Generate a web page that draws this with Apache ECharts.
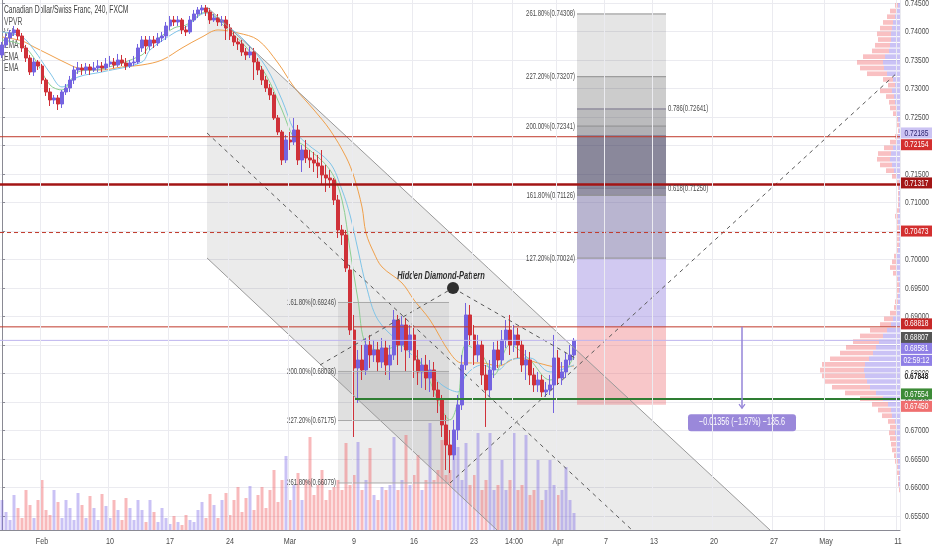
<!DOCTYPE html>
<html><head><meta charset="utf-8">
<script src="https://cdn.jsdelivr.net/npm/echarts/dist/echarts.min.js"></script>
<style>html,body{margin:0;padding:0;background:#fff}#c{width:932px;height:550px}</style>
</head><body><div id="c"></div>
<script>
// ---------------- data ----------------
const slotCount = 225; // 8h slots from start to right edge (incl. future space)
const tickIndex = [10,27,42,57,72,88,103,118,128,139,151,163,178,193,206,224];
const tickText  = ['Feb','10','17','24','Mar','9','16','23','14:00','Apr','7','13','20','27','May','11'];
const priceTickStep = 0.005, priceTickFirst = 0.655, priceTickLast = 0.745;

// [open, close, low, high]
const candles = [
[0.73588,0.73764,0.73535,0.73816],[0.73764,0.73886,0.73711,0.73956],[0.73886,0.73974,0.73816,0.74027],[0.73974,0.74027,0.73921,0.74097],
[0.74027,0.73921,0.73851,0.74062],[0.73921,0.73711,0.73641,0.73974],[0.73711,0.73535,0.73465,0.73764],[0.73535,0.73290,0.73237,0.73588],
[0.73290,0.73465,0.73220,0.73535],[0.73465,0.73395,0.73325,0.73500],[0.73395,0.73149,0.73079,0.73430],[0.73149,0.72939,0.72869,0.73185],
[0.72939,0.72799,0.72693,0.73009],[0.72799,0.72834,0.72728,0.72886],[0.72834,0.72728,0.72623,0.72886],[0.72728,0.72939,0.72658,0.72974],
[0.72939,0.73009,0.72886,0.73079],[0.73009,0.73149,0.72939,0.73220],[0.73149,0.73325,0.73079,0.73395],[0.73325,0.73360,0.73255,0.73465],
[0.73360,0.73325,0.73237,0.73430],[0.73325,0.73378,0.73255,0.73448],[0.73378,0.73325,0.73237,0.73430],[0.73325,0.73360,0.73290,0.73465],
[0.73360,0.73395,0.73290,0.73500],[0.73395,0.73360,0.73290,0.73465],[0.73360,0.73430,0.73325,0.73535],[0.73430,0.73465,0.73378,0.73571],
[0.73465,0.73413,0.73360,0.73535],[0.73413,0.73500,0.73378,0.73606],[0.73500,0.73448,0.73395,0.73588],[0.73448,0.73395,0.73325,0.73535],
[0.73395,0.73448,0.73360,0.73500],[0.73448,0.73465,0.73395,0.73571],[0.73465,0.73711,0.73430,0.73781],[0.73711,0.73851,0.73641,0.73921],
[0.73851,0.73746,0.73606,0.73921],[0.73746,0.73851,0.73676,0.73921],[0.73851,0.73799,0.73711,0.73921],[0.73799,0.73886,0.73746,0.73974],
[0.73886,0.73921,0.73816,0.73992],[0.73921,0.74097,0.73851,0.74167],[0.74097,0.74202,0.74027,0.74272],[0.74202,0.74167,0.74097,0.74272],
[0.74167,0.74202,0.74097,0.74272],[0.74202,0.74027,0.73956,0.74237],[0.74027,0.73992,0.73921,0.74097],[0.73992,0.74202,0.73956,0.74272],
[0.74202,0.74307,0.74167,0.74378],[0.74307,0.74378,0.74237,0.74430],[0.74378,0.74413,0.74307,0.74465],[0.74413,0.74342,0.74272,0.74465],
[0.74342,0.74202,0.74132,0.74413],[0.74202,0.74237,0.74167,0.74307],[0.74237,0.74167,0.74097,0.74307],[0.74167,0.74202,0.74097,0.74272],
[0.74202,0.74062,0.73851,0.74272],[0.74062,0.73921,0.73851,0.74132],[0.73921,0.73816,0.73746,0.73992],[0.73816,0.73781,0.73676,0.73886],
[0.73781,0.73641,0.73571,0.73851],[0.73641,0.73588,0.73500,0.73711],[0.73588,0.73641,0.73535,0.73746],[0.73641,0.73465,0.73149,0.73711],
[0.73465,0.73325,0.73237,0.73535],[0.73325,0.73149,0.73062,0.73395],[0.73149,0.73009,0.72939,0.73220],[0.73009,0.72886,0.72799,0.73079],
[0.72886,0.72483,0.72448,0.72939],[0.72483,0.72237,0.72185,0.72535],[0.72237,0.71746,0.71658,0.72272],[0.71746,0.72097,0.71693,0.72185],
[0.72097,0.72062,0.71921,0.72237],[0.72062,0.72272,0.72009,0.72483],[0.72272,0.71746,0.71658,0.72360],[0.71746,0.71921,0.71535,0.72009],
[0.71921,0.71781,0.71693,0.72097],[0.71781,0.71746,0.71606,0.71921],[0.71746,0.71693,0.71535,0.71886],[0.71693,0.71641,0.71430,0.71834],
[0.71641,0.71483,0.71307,0.71921],[0.71483,0.71430,0.71185,0.71658],[0.71430,0.71395,0.71255,0.71571],[0.71395,0.71044,0.70956,0.71430],
[0.71044,0.70518,0.70378,0.71132],[0.70518,0.70430,0.70255,0.70606],[0.70430,0.69851,0.69781,0.70518],[0.69816,0.68763,0.68676,0.69904],
[0.68763,0.68097,0.66886,0.69027],[0.68097,0.68237,0.67483,0.68413],[0.68237,0.68062,0.67886,0.68500],[0.68062,0.68500,0.67974,0.68623],
[0.68500,0.68325,0.68097,0.68676],[0.68325,0.68413,0.68202,0.68588],[0.68413,0.68202,0.68027,0.68553],[0.68202,0.68448,0.68097,0.68623],
[0.68448,0.68149,0.67974,0.68588],[0.68149,0.68325,0.67886,0.68500],[0.68325,0.68939,0.68237,0.69114],[0.68939,0.68500,0.68149,0.69027],
[0.68500,0.68851,0.68378,0.69009],[0.68851,0.68413,0.68027,0.68974],[0.68413,0.68676,0.68272,0.68851],[0.68676,0.68237,0.67921,0.68799],
[0.68237,0.68027,0.67799,0.68413],[0.68027,0.68149,0.67746,0.68272],[0.68149,0.67921,0.67711,0.68325],[0.67921,0.68062,0.67676,0.68237],
[0.68062,0.67711,0.67588,0.68202],[0.67711,0.67535,0.67307,0.67851],[0.67535,0.67097,0.66886,0.67623],[0.67097,0.66746,0.66307,0.67272],
[0.66746,0.66571,0.66255,0.67009],[0.66571,0.67009,0.66483,0.67185],[0.67009,0.67448,0.66834,0.67623],[0.67448,0.68149,0.67360,0.68325],
[0.68149,0.69027,0.68062,0.69237],[0.69027,0.68676,0.68500,0.69202],[0.68676,0.68325,0.68149,0.68851],[0.68325,0.68500,0.68202,0.68676],
[0.68500,0.67974,0.67799,0.68588],[0.67974,0.67711,0.67062,0.68149],[0.67711,0.68062,0.67588,0.68237],[0.68062,0.68413,0.67921,0.68553],
[0.68413,0.68237,0.68097,0.68588],[0.68237,0.68588,0.68149,0.68763],[0.68588,0.68763,0.68448,0.68939],[0.68763,0.68500,0.68325,0.69027],
[0.68500,0.68676,0.68378,0.68851],[0.68676,0.68500,0.68272,0.68799],[0.68500,0.68149,0.68027,0.68588],[0.68149,0.68237,0.67886,0.68413],
[0.68237,0.67974,0.67799,0.68378],[0.67974,0.67799,0.67676,0.68097],[0.67799,0.67886,0.67676,0.68027],[0.67886,0.67676,0.67588,0.67974],
[0.67676,0.67711,0.67588,0.67851],[0.67711,0.67799,0.67623,0.67974],[0.67799,0.68272,0.67307,0.68676],[0.68272,0.67921,0.67799,0.68413],
[0.67921,0.68027,0.67799,0.68202],[0.68027,0.68237,0.67921,0.68378],[0.68237,0.68325,0.68149,0.68500],[0.68325,0.68581,0.68237,0.68623]
];

const volumes = [
3000,1800,1000,3500,2200,1200,4000,2500,1200,3000,5000,2000,1500,4000,2800,
1200,3000,2200,1000,3700,2500,1200,3400,2200,1000,3600,2400,1200,3000,2000,
1000,3200,2200,1000,3000,2000,800,3000,1800,800,2200,1200,600,1400,800,
500,1500,1000,800,2000,2800,1200,3600,2500,1200,3000,3700,1500,3000,4300,
1800,3200,4400,2000,3500,4300,2200,4000,6000,2800,5000,7400,3000,4500,5700,
3000,5000,9300,3500,4500,6000,3000,4000,4300,5000,4000,8700,4500,5500,8800,
4000,5000,8200,3500,3000,4300,4000,4500,9300,4000,5000,9500,4500,5500,7500,
4000,5000,10700,5000,6000,9000,5500,6000,8300,8300,5000,8700,4500,5500,9700,
4000,5000,9700,4000,4500,7000,4000,5000,9700,4000,4500,9500,3500,4000,7000,
3000,4000,7000,4500,3500,4000,6300,3000,1700];

// EMA readings [slot, price]
const emaSlow = [[0,0.73904],[5,0.73834],[8,0.73728],[12,0.73588],[16,0.73448],[19,0.73360],[25,0.73325],[30,0.73378],[35,0.73413],[40,0.73500],[45,0.73711],[50,0.73904],[54,0.74027],[59,0.73974],[64,0.73851],[69,0.73448],[73,0.73027],[78,0.72623],[82,0.72272],[86,0.71799],[88,0.71448],[90,0.70921],[91,0.70465],[93,0.70114],[95,0.69869],[100,0.69588],[103,0.69290],[107,0.68939],[112,0.68360],[115,0.68185],[120,0.68185],[124,0.68132],[129,0.68272],[134,0.68185],[139,0.68114],[143,0.68132]];
const emaMid = [[0,0.73992],[5,0.73904],[8,0.73676],[12,0.73272],[15,0.73027],[19,0.73202],[25,0.73290],[35,0.73465],[37,0.73676],[43,0.73974],[46,0.74079],[51,0.74325],[56,0.74114],[61,0.73816],[66,0.73378],[70,0.72799],[73,0.72272],[76,0.72044],[82,0.71693],[85,0.71220],[87,0.70781],[89,0.70167],[91,0.69553],[94,0.68939],[100,0.68500],[105,0.68149],[110,0.67799],[114,0.67676],[116,0.67974],[120,0.68149],[124,0.68062],[127,0.68237],[132,0.68272],[137,0.68027],[143,0.68149]];
const emaFast = [[0,0.73851],[5,0.73764],[8,0.73535],[12,0.73062],[15,0.72974],[19,0.73290],[25,0.73343],[35,0.73588],[37,0.73764],[43,0.74062],[46,0.74114],[51,0.74342],[56,0.74062],[61,0.73728],[66,0.73237],[70,0.72623],[73,0.72132],[76,0.71974],[82,0.71571],[85,0.71044],[87,0.70167],[89,0.69290],[91,0.68500],[95,0.68413],[100,0.68500],[105,0.68149],[110,0.67360],[112,0.67185],[114,0.67535],[116,0.68500],[120,0.68325],[123,0.67974],[127,0.68500],[132,0.68237],[137,0.67886],[141,0.68062],[143,0.68325]];

// volume profile (VPVR) rows, from the top price downward
const vpTop = 0.745, vpStep = 0.001;
const vpTotal = [5,10,13,17,20,23,22,25,28,37,43,40,33,17,12,20,14,11,10,7,4,3,2,5,10,16,22,23,20,14,8,3,2,2,2,2,3,5,4,3,3,3,3,4,6,8,10,7,4,3,3,4,5,6,10,16,20,30,40,47,54,60,70,78,80,78,75,68,55,40,28,22,18,12,10,11,10,9,8,6,5,4,3,2,2,1,0,0,0,0,0,0];
const vpUp    = [2,4,5,7,8,9,9,10,11,15,17,16,13,7,5,8,6,5,4,3,2,1,1,2,4,7,9,10,8,6,3,1,1,1,1,1,1,2,2,1,1,1,1,2,3,3,4,3,2,1,1,2,2,3,4,7,9,13,17,21,24,27,31,35,36,35,33,30,24,17,12,9,8,5,4,5,4,4,3,3,2,2,1,1,1,0,0,0,0,0,0,0];

// drawings (slot, price)
const channelUpper = [[51.25,0.74430],[192,0.65254]];
const channelLower = [[51.25,0.70027],[123.75,0.65254]];
const channelMid   = [[51.25,0.72220],[157.5,0.65254]];
const diamondLeft  = [79.5,0.68149];
const diamondTop   = [112.75,0.69500];
const diamondRight = [143.25,0.68272];
const longDash     = [[112,0.66079],[224,0.73290]];
const hLevels = [0.72154,0.71317,0.70473,0.68818,0.68581];
const support = {price:0.67554, from:88.25};

const fibLeftSpan = [84,111.75];
const fibLeftLevels = [0.69246,0.68036,0.67175,0.66079];
const fibLeftText = ['161.80%(0.69246)','200.00%(0.68036)','227.20%(0.67175)','261.80%(0.66079)'];
const fibRightSpan = [143.75,166];
const fibRightLevels = [0.74308,0.73207,0.72341,0.71126,0.70024];
const fibRightText = ['261.80%(0.74308)','227.20%(0.73207)','200.00%(0.72341)','161.80%(0.71126)','127.20%(0.70024)'];
const retrLevels = [0.72641,0.71250];
const retrText = ['0.786(0.72641)','0.618(0.71250)'];
const posTarget = 0.72185, posEntry = 0.68818, posStop = 0.67450;

const measure = {slot:185, from:0.68818, to:0.67462, text:'\u22120.01356 (\u22121.97%) \u2212135.6'};
const patternText = 'Hidden Diamond-Pattern';
const titleText = 'Canadian Dollar/Swiss Franc, 240, FXCM';
const legendRows = ['VPVR','Vol','EMA','EMA','EMA'];

const tagValues = [0.72185,0.72154,0.71317,0.70473,0.68818,0.68807,0.68581,0.68581,0.67848,0.67554,0.67450];
const tagTexts  = ['0.72185','0.72154','0.71317','0.70473','0.68818','0.68807','0.68581','02:59:12','0.67848','0.67554','0.67450'];

// ---------------- styles ----------------
const FN = "'Liberation Sans',Roboto,sans-serif";
const UP = '#7463e0', DOWN = '#cf3139';
const tagStyle = [
  {dy:-2, bg:'#cbc3f3', fg:'#2d2470'},
  {dy:8, bg:'#d32f2f', fg:'#fff'},
  {dy:-1.5, bg:'#a31515', fg:'#fff'},
  {dy:-1.5, bg:'#d32f2f', fg:'#fff'},
  {dy:-3, bg:'#c62828', fg:'#fff'},
  {dy:10, bg:'#555555', fg:'#fff'},
  {dy:8, bg:'#8f7fe6', fg:'#fff'},
  {dy:20, bg:'#8f7fe6', fg:'#fff'},
  {dy:-5.5, bg:'#ffffff', fg:'#222', bold:true, h:8},
  {dy:-5, bg:'#3d8b37', fg:'#fff'},
  {dy:1.5, bg:'#ef6f6f', fg:'#fff'}
];
const hLevelStyle = [
  {stroke:'#c0392b', lineWidth:1},
  {stroke:'#a31515', lineWidth:2.5},
  {stroke:'#c0392b', lineWidth:1, lineDash:[4,3]},
  {stroke:'#c0392b', lineWidth:1},
  {stroke:'#bfb6ee', lineWidth:1}
];

const tickMap = {};
tickIndex.forEach((t,k)=>{ tickMap[t] = tickText[k]; });
const cats = Array.from({length: slotCount}, (_, i) => String(i));

function band(api, x1, x2, p1, p2, fill) {
  const a = api.coord([x1, p1]), b = api.coord([x2, p2]);
  return {type:'rect', shape:{x:Math.min(a[0],b[0]), y:Math.min(a[1],b[1]), width:Math.abs(b[0]-a[0]), height:Math.abs(b[1]-a[1])}, style:{fill}};
}
function seg(api, p, q, style) {
  const a = api.coord(p), b = api.coord(q);
  return {type:'line', shape:{x1:a[0], y1:a[1], x2:b[0], y2:b[1]}, style:Object.assign({fill:null}, style)};
}
// narrow text: the reference uses a condensed face, emulated with a horizontal scale
function txt(text, x, y, o) {
  return {type:'text', x:x, y:y, scaleX:o.sx || 0.68, style:{text:text, x:0, y:0, align:o.align || 'left', verticalAlign:'middle', font:o.font, fill:o.fill || '#4a4a4a'}};
}

function renderFills(params, api) {
  if (params.dataIndex !== 0) return;
  const ch = [];
  ch.push({type:'polygon', shape:{points:[channelUpper[0],channelUpper[1],channelLower[1],channelLower[0]].map(p=>api.coord(p))}, style:{fill:'rgba(0,0,0,0.08)'}});
  const L = fibLeftSpan, FL = fibLeftLevels;
  ch.push(band(api, L[0], L[1], FL[0], FL[1], 'rgba(0,0,0,0.06)'));
  ch.push(band(api, L[0], L[1], FL[1], FL[2], 'rgba(0,0,0,0.12)'));
  ch.push(band(api, L[0], L[1], FL[2], FL[3], 'rgba(0,0,0,0.07)'));
  const R = fibRightSpan, FR = fibRightLevels;
  const bands = [
    [posStop, posEntry, 'rgba(236,100,105,0.36)'],
    [posEntry, FR[4], 'rgba(140,120,220,0.40)'],
    [FR[4], FR[3], 'rgba(100,90,150,0.45)'],
    [FR[3], retrLevels[1], 'rgba(60,55,90,0.55)'],
    [retrLevels[1], posTarget, 'rgba(50,45,80,0.57)'],
    [posTarget, FR[2], 'rgba(60,60,70,0.40)'],
    [FR[2], retrLevels[0], 'rgba(70,70,75,0.37)'],
    [retrLevels[0], FR[1], 'rgba(0,0,0,0.20)'],
    [FR[1], FR[0], 'rgba(0,0,0,0.10)']
  ];
  bands.forEach(b => ch.push(band(api, R[0], R[1], b[0], b[1], b[2])));
  return {type:'group', children: ch};
}

function renderDrawings(params, api) {
  if (params.dataIndex !== 0) return;
  const ch = [];
  const dash = {stroke:'#5a5a5a', lineWidth:1, lineDash:[4,4]};
  ch.push(seg(api, channelUpper[0], channelUpper[1], {stroke:'#9a9a9a', lineWidth:1}));
  ch.push(seg(api, channelLower[0], channelLower[1], {stroke:'#9a9a9a', lineWidth:1}));
  ch.push(seg(api, channelMid[0], channelMid[1], dash));
  ch.push(seg(api, diamondLeft, diamondTop, dash));
  ch.push(seg(api, diamondTop, diamondRight, dash));
  ch.push(seg(api, longDash[0], longDash[1], dash));
  hLevels.forEach((v,k) => ch.push(seg(api, [-0.5, v], [slotCount-0.5, v], hLevelStyle[k])));
  ch.push(seg(api, [support.from, support.price], [slotCount-0.5, support.price], {stroke:'#2e7d32', lineWidth:2}));
  fibLeftLevels.forEach(v => ch.push(seg(api, [fibLeftSpan[0], v], [fibLeftSpan[1], v], {stroke:'#a8a8a8', lineWidth:1})));
  fibRightLevels.forEach(v => ch.push(seg(api, [fibRightSpan[0], v], [fibRightSpan[1], v], {stroke:'#8e8e8e', lineWidth:1})));
  retrLevels.forEach(v => ch.push(seg(api, [fibRightSpan[0], v], [fibRightSpan[1], v], {stroke:'#77738a', lineWidth:1})));
  const d = api.coord(diamondTop);
  ch.push({type:'circle', shape:{cx:d[0], cy:d[1], r:6}, style:{fill:'#2f2f2f'}});
  const m1 = api.coord([measure.slot, measure.from]), m2 = api.coord([measure.slot, measure.to]);
  ch.push({type:'line', shape:{x1:m1[0], y1:m1[1], x2:m2[0], y2:m2[1]+4}, style:{stroke:'#9585d8', lineWidth:1.5}});
  ch.push({type:'polyline', shape:{points:[[m2[0]-3, m2[1]],[m2[0], m2[1]+4],[m2[0]+3, m2[1]]]}, style:{stroke:'#9585d8', lineWidth:1.2, fill:null}});
  return {type:'group', children: ch};
}

function renderTexts(params, api) {
  if (params.dataIndex !== 0) return;
  const ch = [];
  const xr = params.coordSys.x + params.coordSys.width;
  // price scale labels
  for (let v = priceTickFirst; v <= priceTickLast + 1e-9; v += priceTickStep) {
    const y = api.coord([0, v])[1];
    ch.push(txt(v.toFixed(5), xr + 5, y, {font:'9.5px ' + FN, sx:0.7, fill:'#4a4a4a'}));
  }
  const small = '9px ' + FN;
  fibLeftLevels.forEach((v,k) => { const p = api.coord([fibLeftSpan[0], v]);
    ch.push(txt(fibLeftText[k], p[0]-2, p[1], {align:'right', font:small, sx:0.66})); });
  fibRightLevels.forEach((v,k) => { const p = api.coord([fibRightSpan[0], v]);
    ch.push(txt(fibRightText[k], p[0]-2, p[1], {align:'right', font:small, sx:0.66})); });
  retrLevels.forEach((v,k) => { const p = api.coord([fibRightSpan[1], v]);
    ch.push(txt(retrText[k], p[0]+2, p[1], {align:'left', font:small, sx:0.66})); });
  const d = api.coord(diamondTop);
  ch.push(txt(patternText, d[0]-12, d[1]-12, {align:'center', font:'italic bold 11px ' + FN, sx:0.68, fill:'#2e2e2e'}));
  const m2 = api.coord([measure.slot, measure.to]);
  ch.push({type:'rect', shape:{x:m2[0]-54, y:m2[1]+10, width:108, height:17, r:3}, style:{fill:'#9a88da'}});
  ch.push(txt(measure.text, m2[0], m2[1]+18.5, {align:'center', font:'10px ' + FN, sx:0.72, fill:'#fff'}));
  tagValues.forEach((v,k) => {
    const s = tagStyle[k]; const y = api.coord([0, v])[1] + s.dy; const h = s.h || 11;
    if (s.bg) ch.push({type:'rect', shape:{x:xr+1, y:y-h/2, width:31, height:h}, style:{fill:s.bg}});
    ch.push(txt(tagTexts[k], xr+16.5, y, {align:'center', font:(s.bold?'bold ':'') + '9.5px ' + FN, sx:0.7, fill:s.fg}));
  });
  return {type:'group', children: ch};
}

function renderTimeLabels(params, api) {
  if (params.dataIndex !== 0) return;
  const yb = params.coordSys.y + params.coordSys.height;
  return {type:'group', children: tickIndex.map((t,k) => {
    const x = api.coord([t, 0])[0];
    return txt(tickText[k], x, yb + 11, {align:'center', font:'9.5px ' + FN, sx:0.75, fill:'#4a4a4a'});
  })};
}

function renderVP(params, api) {
  const r = params.dataIndex;
  if (!vpTotal[r]) return;
  const top = vpTop - r*vpStep, bot = top - vpStep*0.82;
  const a = api.coord([0, top]), b = api.coord([vpUp[r], bot]), c = api.coord([vpTotal[r], bot]);
  return {type:'group', children:[
    {type:'rect', shape:{x:b[0], y:a[1], width:a[0]-b[0], height:b[1]-a[1]}, style:{fill:'rgba(128,110,230,0.42)'}},
    {type:'rect', shape:{x:c[0], y:a[1], width:b[0]-c[0], height:b[1]-a[1]}, style:{fill:'rgba(240,104,110,0.42)'}}
  ]};
}

const chart = echarts.init(document.getElementById('c'));
const gridBase = {left:0, width:900, containLabel:false, outerBoundsMode:'none'};
const emaLine = (data, color) => ({type:'line', xAxisIndex:2, yAxisIndex:0, data, smooth:0.35, showSymbol:false, silent:true, z:3,
  lineStyle:{color, width:1}, itemStyle:{color}});

const graphics = [
  {type:'rect', x:0, y:530.5, shape:{width:900, height:20}, style:{fill:'#ffffff'}, z:1, silent:true},
  {type:'text', x:4, y:10, scaleX:0.64, style:{text:titleText, font:'10.5px ' + FN, fill:'#3c3c3c', verticalAlign:'middle'}, z:0}
];
legendRows.forEach((t,k) => graphics.push({type:'text', x:4, y:22 + k*11.6, scaleX:0.64, style:{text:t, font:'10.5px ' + FN, fill:'#555', verticalAlign:'middle'}, z:0}));

chart.setOption({
  animation: false,
  backgroundColor: '#ffffff',
  grid: [
    Object.assign({top:-25.5, height:570}, gridBase),
    Object.assign({top:0, height:530}, gridBase),
    Object.assign({top:-25.5, height:570}, gridBase)
  ],
  xAxis: [
    {type:'category', gridIndex:0, data:cats, show:false, boundaryGap:true, position:'bottom'},
    {type:'category', gridIndex:1, data:cats, boundaryGap:true, position:'bottom', z:10,
      axisLine:{show:true, lineStyle:{color:'#8a8a94', width:1}},
      axisTick:{show:false},
      axisLabel:{show:false},
      splitLine:{show:true, interval:(i)=>tickMap[i]!==undefined, lineStyle:{color:'#ebebf0', width:1}}},
    {type:'value', gridIndex:0, min:-0.5, max:slotCount-0.5, show:false, position:'top'},
    {type:'value', gridIndex:2, min:0, max:900, inverse:true, show:false}
  ],
  yAxis: [
    {type:'value', gridIndex:0, position:'right', min:0.65, max:0.75, interval:priceTickStep,
      axisLine:{show:true, lineStyle:{color:'#8a8a94', width:1}},
      axisTick:{show:true, length:3, lineStyle:{color:'#8a8a94'}},
      axisLabel:{show:false},
      splitLine:{show:true, lineStyle:{color:'#ebebf0', width:1}}},
    {type:'value', gridIndex:1, min:0, max:53000, show:false},
    {type:'value', gridIndex:2, min:0.65, max:0.75, show:false}
  ],
  graphic: graphics,
  series: [
    {type:'custom', xAxisIndex:2, yAxisIndex:0, z:1, silent:true, data:[[0,0.7]], renderItem:renderFills},
    {type:'bar', xAxisIndex:1, yAxisIndex:1, z:2, silent:true, barWidth:'75%',
      data: volumes.map((v,i)=>({value:v, itemStyle:{color: candles[i][1] >= candles[i][0] ? 'rgba(128,110,230,0.42)' : 'rgba(240,100,105,0.45)'}}))},
    {type:'custom', xAxisIndex:3, yAxisIndex:2, z:2, silent:true, data: vpTotal.map((t,r)=>[t, vpTop - r*vpStep]), renderItem:renderVP},
    emaLine(emaSlow, '#f0a04b'),
    emaLine(emaMid, '#7fc4e8'),
    emaLine(emaFast, '#8ccf92'),
    {type:'candlestick', xAxisIndex:0, yAxisIndex:0, z:4, silent:true, barWidth:'75%', data:candles,
      itemStyle:{color:UP, color0:DOWN, borderColor:UP, borderColor0:DOWN, borderWidth:1}},
    {type:'custom', xAxisIndex:2, yAxisIndex:0, z:5, silent:true, data:[[0,0.7]], renderItem:renderDrawings},
    {type:'custom', xAxisIndex:2, yAxisIndex:0, z:6, silent:true, data:[[0,0.7]], renderItem:renderTexts},
    {type:'custom', xAxisIndex:1, yAxisIndex:1, z:11, silent:true, data:[[0,0]], renderItem:renderTimeLabels}
  ]
});
</script>
</body></html>
